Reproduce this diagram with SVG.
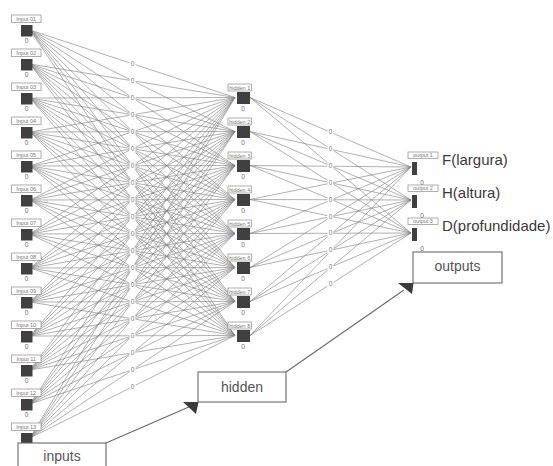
<svg xmlns="http://www.w3.org/2000/svg" width="553" height="466" viewBox="0 0 553 466">
<style>
  .wire { fill: none; stroke: #858585; stroke-width: 0.65; }
  .lbl { fill: #fff; stroke: #8a8a8a; stroke-width: 0.7; }
  .lbltxt { font-family: "Liberation Sans", Arial, sans-serif; font-size: 5.5px; fill: #777; text-anchor: middle; }
  .core { fill: #404040; }
  .val { font-family: "Liberation Sans", Arial, sans-serif; font-size: 6.5px; fill: #666; text-anchor: middle; }
  .wval { font-family: "Liberation Sans", Arial, sans-serif; font-size: 6.5px; fill: #777; text-anchor: middle; }
  .gap { fill: #fff; }
  .name { font-family: "Liberation Sans", Arial, sans-serif; font-size: 15px; fill: #3a3a3a; }
  .box { fill: #fff; stroke: #6a6a6a; stroke-width: 1.1; }
  .boxtxt { font-family: "Liberation Sans", Arial, sans-serif; font-size: 14px; fill: #555; text-anchor: middle; }
  .lead { fill: none; stroke: #6a6a6a; stroke-width: 1.1; }
  .head { fill: #3a3a3a; }
</style>
<rect width="553" height="466" fill="#fff"/>

<!-- input -> hidden connections -->
<g id="connectors">
<path class="wire" d="M30 30L235 97.5M30 30L235 131.5M30 30L235 165.5M30 30L235 199.5M30 30L235 233.5M30 30L235 267.5M30 30L235 301.5M30 30L235 335.5
M30 64L235 97.5M30 64L235 131.5M30 64L235 165.5M30 64L235 199.5M30 64L235 233.5M30 64L235 267.5M30 64L235 301.5M30 64L235 335.5
M30 98L235 97.5M30 98L235 131.5M30 98L235 165.5M30 98L235 199.5M30 98L235 233.5M30 98L235 267.5M30 98L235 301.5M30 98L235 335.5
M30 132L235 97.5M30 132L235 131.5M30 132L235 165.5M30 132L235 199.5M30 132L235 233.5M30 132L235 267.5M30 132L235 301.5M30 132L235 335.5
M30 166L235 97.5M30 166L235 131.5M30 166L235 165.5M30 166L235 199.5M30 166L235 233.5M30 166L235 267.5M30 166L235 301.5M30 166L235 335.5
M30 200L235 97.5M30 200L235 131.5M30 200L235 165.5M30 200L235 199.5M30 200L235 233.5M30 200L235 267.5M30 200L235 301.5M30 200L235 335.5
M30 234L235 97.5M30 234L235 131.5M30 234L235 165.5M30 234L235 199.5M30 234L235 233.5M30 234L235 267.5M30 234L235 301.5M30 234L235 335.5
M30 268L235 97.5M30 268L235 131.5M30 268L235 165.5M30 268L235 199.5M30 268L235 233.5M30 268L235 267.5M30 268L235 301.5M30 268L235 335.5
M30 302L235 97.5M30 302L235 131.5M30 302L235 165.5M30 302L235 199.5M30 302L235 233.5M30 302L235 267.5M30 302L235 301.5M30 302L235 335.5
M30 336L235 97.5M30 336L235 131.5M30 336L235 165.5M30 336L235 199.5M30 336L235 233.5M30 336L235 267.5M30 336L235 301.5M30 336L235 335.5
M30 370L235 97.5M30 370L235 131.5M30 370L235 165.5M30 370L235 199.5M30 370L235 233.5M30 370L235 267.5M30 370L235 301.5M30 370L235 335.5
M30 404L235 97.5M30 404L235 131.5M30 404L235 165.5M30 404L235 199.5M30 404L235 233.5M30 404L235 267.5M30 404L235 301.5M30 404L235 335.5
M30 438L235 97.5M30 438L235 131.5M30 438L235 165.5M30 438L235 199.5M30 438L235 233.5M30 438L235 267.5M30 438L235 301.5M30 438L235 335.5"/>
<!-- hidden -> output connections -->
<path class="wire" d="M250 97.5L411 167M250 97.5L411 200M250 97.5L411 233
M250 131.5L411 167M250 131.5L411 200M250 131.5L411 233
M250 165.5L411 167M250 165.5L411 200M250 165.5L411 233
M250 199.5L411 167M250 199.5L411 200M250 199.5L411 233
M250 233.5L411 167M250 233.5L411 200M250 233.5L411 233
M250 267.5L411 167M250 267.5L411 200M250 267.5L411 233
M250 301.5L411 167M250 301.5L411 200M250 301.5L411 233
M250 335.5L411 167M250 335.5L411 200M250 335.5L411 233"/>
<!-- weight values, first layer -->
<g id="weights-1">
<rect class="gap" x="129.5" y="60.5" width="6" height="7"/><text class="wval" x="132.5" y="66">0</text>
<rect class="gap" x="129.5" y="77.5" width="6" height="7"/><text class="wval" x="132.5" y="83">0</text>
<rect class="gap" x="129.5" y="94.5" width="6" height="7"/><text class="wval" x="132.5" y="100">0</text>
<rect class="gap" x="129.5" y="111.5" width="6" height="7"/><text class="wval" x="132.5" y="117">0</text>
<rect class="gap" x="129.5" y="128.5" width="6" height="7"/><text class="wval" x="132.5" y="134">0</text>
<rect class="gap" x="129.5" y="145.5" width="6" height="7"/><text class="wval" x="132.5" y="151">0</text>
<rect class="gap" x="129.5" y="162.5" width="6" height="7"/><text class="wval" x="132.5" y="168">0</text>
<rect class="gap" x="129.5" y="179.5" width="6" height="7"/><text class="wval" x="132.5" y="185">0</text>
<rect class="gap" x="129.5" y="196.5" width="6" height="7"/><text class="wval" x="132.5" y="202">0</text>
<rect class="gap" x="129.5" y="213.5" width="6" height="7"/><text class="wval" x="132.5" y="219">0</text>
<rect class="gap" x="129.5" y="230.5" width="6" height="7"/><text class="wval" x="132.5" y="236">0</text>
<rect class="gap" x="129.5" y="247.5" width="6" height="7"/><text class="wval" x="132.5" y="253">0</text>
<rect class="gap" x="129.5" y="264.5" width="6" height="7"/><text class="wval" x="132.5" y="270">0</text>
<rect class="gap" x="129.5" y="281.5" width="6" height="7"/><text class="wval" x="132.5" y="287">0</text>
<rect class="gap" x="129.5" y="298.5" width="6" height="7"/><text class="wval" x="132.5" y="304">0</text>
<rect class="gap" x="129.5" y="315.5" width="6" height="7"/><text class="wval" x="132.5" y="321">0</text>
<rect class="gap" x="129.5" y="332.5" width="6" height="7"/><text class="wval" x="132.5" y="338">0</text>
<rect class="gap" x="129.5" y="349.5" width="6" height="7"/><text class="wval" x="132.5" y="355">0</text>
<rect class="gap" x="129.5" y="366.5" width="6" height="7"/><text class="wval" x="132.5" y="372">0</text>
<rect class="gap" x="129.5" y="383.5" width="6" height="7"/><text class="wval" x="132.5" y="389">0</text>
</g>
<!-- weight values, second layer -->
<g id="weights-2">
<rect class="gap" x="327.5" y="128.5" width="6" height="7"/><text class="wval" x="330.5" y="134">0</text>
<rect class="gap" x="327.5" y="145.5" width="6" height="7"/><text class="wval" x="330.5" y="151">0</text>
<rect class="gap" x="327.5" y="162.5" width="6" height="7"/><text class="wval" x="330.5" y="168">0</text>
<rect class="gap" x="327.5" y="179.5" width="6" height="7"/><text class="wval" x="330.5" y="185">0</text>
<rect class="gap" x="327.5" y="196" width="6" height="7"/><text class="wval" x="330.5" y="201.5">0</text>
<rect class="gap" x="327.5" y="213" width="6" height="7"/><text class="wval" x="330.5" y="218.5">0</text>
<rect class="gap" x="327.5" y="229.5" width="6" height="7"/><text class="wval" x="330.5" y="235">0</text>
<rect class="gap" x="327.5" y="246.5" width="6" height="7"/><text class="wval" x="330.5" y="252">0</text>
<rect class="gap" x="327.5" y="263.5" width="6" height="7"/><text class="wval" x="330.5" y="269">0</text>
<rect class="gap" x="327.5" y="280.5" width="6" height="7"/><text class="wval" x="330.5" y="286">0</text>
</g>
</g>

<!-- input layer -->
<g id="input-01"><rect class="lbl" x="11.5" y="15" width="29.5" height="7.5"/><text class="lbltxt" x="26.2" y="20.8">Input 01</text><rect class="core" x="21" y="25" width="11.5" height="11.5"/><text class="val" x="26.5" y="43">0</text></g>
<g id="input-02"><rect class="lbl" x="11.5" y="49" width="29.5" height="7.5"/><text class="lbltxt" x="26.2" y="54.8">Input 02</text><rect class="core" x="21" y="59" width="11.5" height="11.5"/><text class="val" x="26.5" y="77">0</text></g>
<g id="input-03"><rect class="lbl" x="11.5" y="83" width="29.5" height="7.5"/><text class="lbltxt" x="26.2" y="88.8">Input 03</text><rect class="core" x="21" y="93" width="11.5" height="11.5"/><text class="val" x="26.5" y="111">0</text></g>
<g id="input-04"><rect class="lbl" x="11.5" y="117" width="29.5" height="7.5"/><text class="lbltxt" x="26.2" y="122.8">Input 04</text><rect class="core" x="21" y="127" width="11.5" height="11.5"/><text class="val" x="26.5" y="145">0</text></g>
<g id="input-05"><rect class="lbl" x="11.5" y="151" width="29.5" height="7.5"/><text class="lbltxt" x="26.2" y="156.8">Input 05</text><rect class="core" x="21" y="161" width="11.5" height="11.5"/><text class="val" x="26.5" y="179">0</text></g>
<g id="input-06"><rect class="lbl" x="11.5" y="185" width="29.5" height="7.5"/><text class="lbltxt" x="26.2" y="190.8">Input 06</text><rect class="core" x="21" y="195" width="11.5" height="11.5"/><text class="val" x="26.5" y="213">0</text></g>
<g id="input-07"><rect class="lbl" x="11.5" y="219" width="29.5" height="7.5"/><text class="lbltxt" x="26.2" y="224.8">Input 07</text><rect class="core" x="21" y="229" width="11.5" height="11.5"/><text class="val" x="26.5" y="247">0</text></g>
<g id="input-08"><rect class="lbl" x="11.5" y="253" width="29.5" height="7.5"/><text class="lbltxt" x="26.2" y="258.8">Input 08</text><rect class="core" x="21" y="263" width="11.5" height="11.5"/><text class="val" x="26.5" y="281">0</text></g>
<g id="input-09"><rect class="lbl" x="11.5" y="287" width="29.5" height="7.5"/><text class="lbltxt" x="26.2" y="292.8">Input 09</text><rect class="core" x="21" y="297" width="11.5" height="11.5"/><text class="val" x="26.5" y="315">0</text></g>
<g id="input-10"><rect class="lbl" x="11.5" y="321" width="29.5" height="7.5"/><text class="lbltxt" x="26.2" y="326.8">Input 10</text><rect class="core" x="21" y="331" width="11.5" height="11.5"/><text class="val" x="26.5" y="349">0</text></g>
<g id="input-11"><rect class="lbl" x="11.5" y="355" width="29.5" height="7.5"/><text class="lbltxt" x="26.2" y="360.8">Input 11</text><rect class="core" x="21" y="365" width="11.5" height="11.5"/><text class="val" x="26.5" y="383">0</text></g>
<g id="input-12"><rect class="lbl" x="11.5" y="389" width="29.5" height="7.5"/><text class="lbltxt" x="26.2" y="394.8">Input 12</text><rect class="core" x="21" y="399" width="11.5" height="11.5"/><text class="val" x="26.5" y="417">0</text></g>
<g id="input-13"><rect class="lbl" x="11.5" y="423" width="29.5" height="7.5"/><text class="lbltxt" x="26.2" y="428.8">Input 13</text><rect class="core" x="21" y="433" width="11.5" height="11.5"/><text class="val" x="26.5" y="451">0</text></g>

<!-- hidden layer -->
<g id="hidden-1"><rect class="lbl" x="228" y="84" width="23.5" height="7"/><text class="lbltxt" x="239.7" y="89.5">hidden 1</text><rect class="core" x="237" y="92" width="13" height="12"/><text class="val" x="243" y="110.5">0</text></g>
<g id="hidden-2"><rect class="lbl" x="228" y="118" width="23.5" height="7"/><text class="lbltxt" x="239.7" y="123.5">hidden 2</text><rect class="core" x="237" y="126" width="13" height="12"/><text class="val" x="243" y="144.5">0</text></g>
<g id="hidden-3"><rect class="lbl" x="228" y="152" width="23.5" height="7"/><text class="lbltxt" x="239.7" y="157.5">hidden 3</text><rect class="core" x="237" y="160" width="13" height="12"/><text class="val" x="243" y="178.5">0</text></g>
<g id="hidden-4"><rect class="lbl" x="228" y="186" width="23.5" height="7"/><text class="lbltxt" x="239.7" y="191.5">hidden 4</text><rect class="core" x="237" y="194" width="13" height="12"/><text class="val" x="243" y="212.5">0</text></g>
<g id="hidden-5"><rect class="lbl" x="228" y="220" width="23.5" height="7"/><text class="lbltxt" x="239.7" y="225.5">hidden 5</text><rect class="core" x="237" y="228" width="13" height="12"/><text class="val" x="243" y="246.5">0</text></g>
<g id="hidden-6"><rect class="lbl" x="228" y="254" width="23.5" height="7"/><text class="lbltxt" x="239.7" y="259.5">hidden 6</text><rect class="core" x="237" y="262" width="13" height="12"/><text class="val" x="243" y="280.5">0</text></g>
<g id="hidden-7"><rect class="lbl" x="228" y="288" width="23.5" height="7"/><text class="lbltxt" x="239.7" y="293.5">hidden 7</text><rect class="core" x="237" y="296" width="13" height="12"/><text class="val" x="243" y="314.5">0</text></g>
<g id="hidden-8"><rect class="lbl" x="228" y="322" width="23.5" height="7"/><text class="lbltxt" x="239.7" y="327.5">hidden 8</text><rect class="core" x="237" y="330" width="13" height="12"/><text class="val" x="243" y="348.5">0</text></g>

<!-- output layer -->
<g id="output-1"><rect class="lbl" x="408" y="152" width="30" height="6.5"/><text class="lbltxt" x="423" y="157.4">output 1</text><rect class="core" x="412" y="162" width="5" height="13"/><text class="val" x="422" y="185">0</text><text class="name" x="442" y="165">F(largura)</text></g>
<g id="output-2"><rect class="lbl" x="408" y="185" width="30" height="6.5"/><text class="lbltxt" x="423" y="190.4">output 2</text><rect class="core" x="412" y="195" width="5" height="13"/><text class="val" x="422" y="218">0</text><text class="name" x="442" y="198">H(altura)</text></g>
<g id="output-3"><rect class="lbl" x="408" y="218" width="30" height="6.5"/><text class="lbltxt" x="423" y="223.4">output 3</text><rect class="core" x="412" y="228" width="5" height="13"/><text class="val" x="422" y="251">0</text><text class="name" x="442" y="231">D(profundidade)</text></g>

<!-- layer captions with pointer leads -->
<g id="caption-leads">
  <path class="lead" d="M106 443L190 406.5"/>
  <polygon class="head" points="198.5,402 183,402 196,414"/>
  <path class="lead" d="M286 372L404 290"/>
  <polygon class="head" points="413.5,283 398,283 412,294"/>
</g>
<g id="caption-outputs"><rect class="box" x="413" y="252" width="89" height="31"/><text class="boxtxt" x="457.5" y="271">outputs</text></g>
<g id="caption-hidden"><rect class="box" x="198" y="372" width="88" height="30"/><text class="boxtxt" x="242" y="392">hidden</text></g>
<g id="caption-inputs"><rect class="box" x="18" y="443" width="88" height="30"/><text class="boxtxt" x="62" y="461">inputs</text></g>
</svg>
